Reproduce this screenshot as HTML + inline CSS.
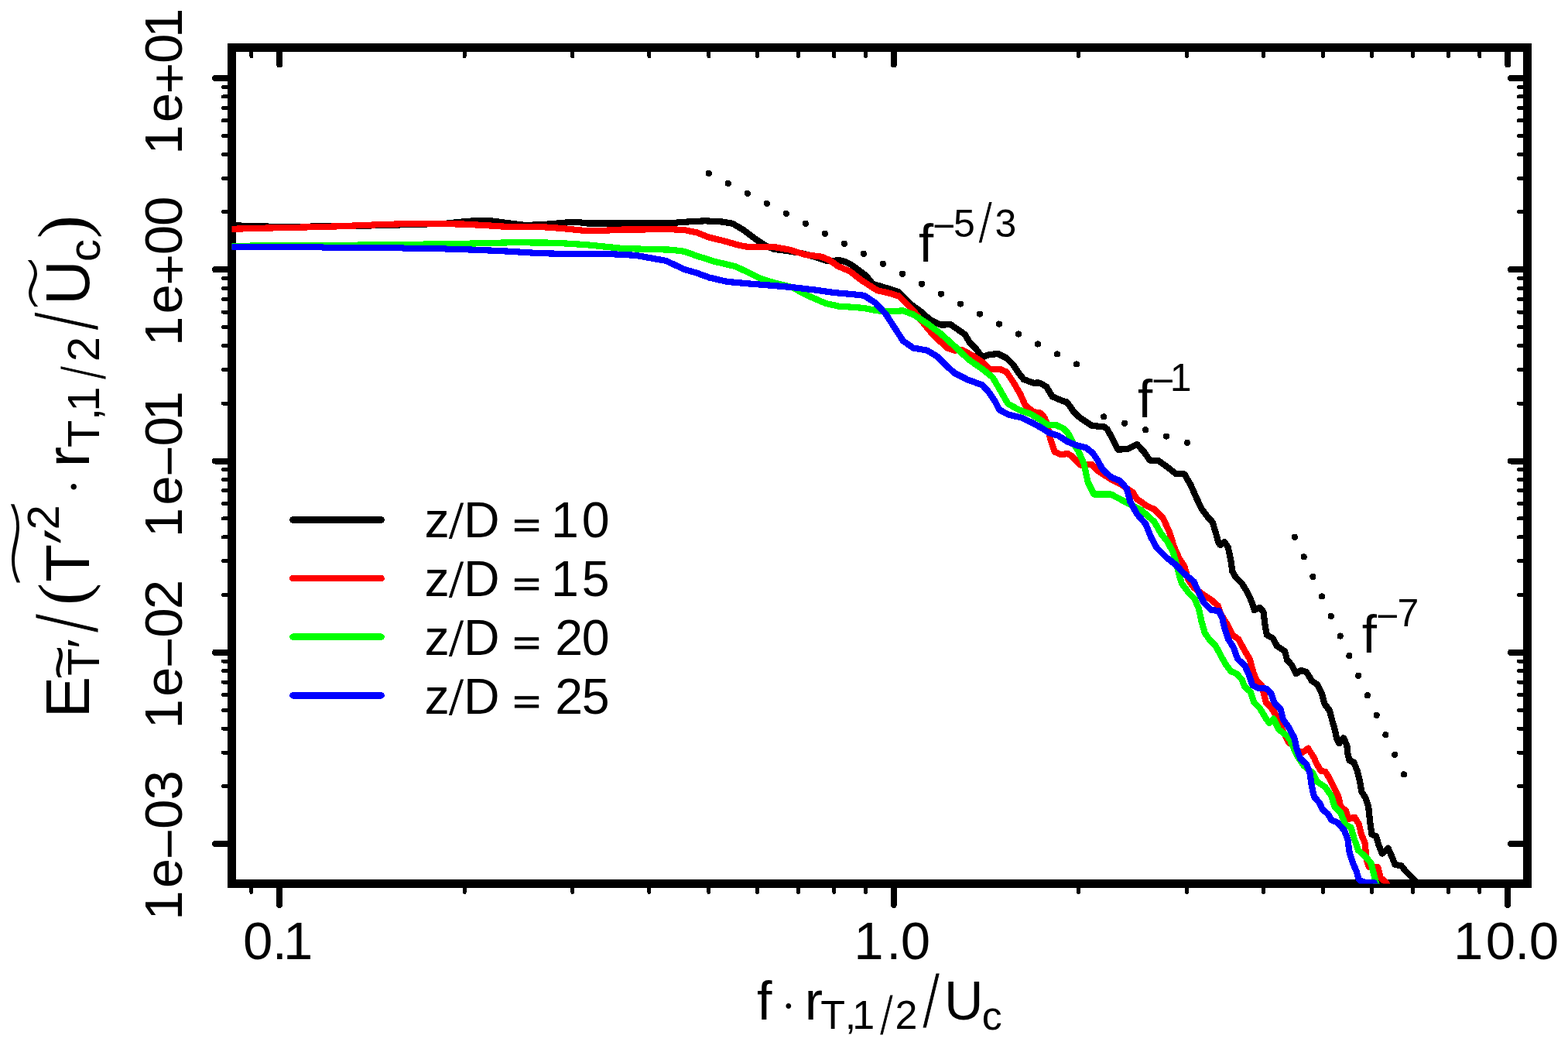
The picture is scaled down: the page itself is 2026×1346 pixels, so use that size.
<!DOCTYPE html><html><head><meta charset="utf-8"><title>Spectra</title><style>html,body{margin:0;padding:0;background:#fff;}svg{display:block;}</style></head><body>
<svg width="2026" height="1346" viewBox="0 0 2026 1346">
<rect width="2026" height="1346" fill="#fff"/>
<g shape-rendering="crispEdges">
<defs><clipPath id="pc"><rect x="299.5" y="61.5" width="1674.0" height="1080.0"/></clipPath></defs>
<rect x="299.5" y="61.5" width="1674.0" height="1080.0" fill="none" stroke="#000" stroke-width="11" stroke-linejoin="miter"/>
<path d="M361.25,61.5V83.5 M361.25,1141.5V1168.8 M1154.75,61.5V83.5 M1154.75,1141.5V1168.8 M1948.25,61.5V83.5 M1948.25,1141.5V1168.8" stroke="#000" stroke-width="8" stroke-linecap="round" fill="none"/>
<path d="M299.5,1090.00H278 M1973.5,1090.00H1952 M299.5,842.75H278 M1973.5,842.75H1952 M299.5,595.50H278 M1973.5,595.50H1952 M299.5,348.25H278 M1973.5,348.25H1952 M299.5,101.00H278 M1973.5,101.00H1952" stroke="#000" stroke-width="8" stroke-linecap="round" fill="none"/>
<path d="M324.94,61.5V72.5 M324.94,1141.5V1152.4 M600.12,61.5V72.5 M600.12,1141.5V1152.4 M739.85,61.5V72.5 M739.85,1141.5V1152.4 M838.98,61.5V72.5 M838.98,1141.5V1152.4 M915.88,61.5V72.5 M915.88,1141.5V1152.4 M978.71,61.5V72.5 M978.71,1141.5V1152.4 M1031.84,61.5V72.5 M1031.84,1141.5V1152.4 M1077.85,61.5V72.5 M1077.85,1141.5V1152.4 M1118.44,61.5V72.5 M1118.44,1141.5V1152.4 M1393.62,61.5V72.5 M1393.62,1141.5V1152.4 M1533.35,61.5V72.5 M1533.35,1141.5V1152.4 M1632.48,61.5V72.5 M1632.48,1141.5V1152.4 M1709.38,61.5V72.5 M1709.38,1141.5V1152.4 M1772.21,61.5V72.5 M1772.21,1141.5V1152.4 M1825.34,61.5V72.5 M1825.34,1141.5V1152.4 M1871.35,61.5V72.5 M1871.35,1141.5V1152.4 M1911.94,61.5V72.5 M1911.94,1141.5V1152.4 M299.5,1015.57H288.5 M1973.5,1015.57H1962.5 M299.5,972.03H288.5 M1973.5,972.03H1962.5 M299.5,941.14H288.5 M1973.5,941.14H1962.5 M299.5,917.18H288.5 M1973.5,917.18H1962.5 M299.5,897.60H288.5 M1973.5,897.60H1962.5 M299.5,881.05H288.5 M1973.5,881.05H1962.5 M299.5,866.71H288.5 M1973.5,866.71H1962.5 M299.5,854.06H288.5 M1973.5,854.06H1962.5 M299.5,768.32H288.5 M1973.5,768.32H1962.5 M299.5,724.78H288.5 M1973.5,724.78H1962.5 M299.5,693.89H288.5 M1973.5,693.89H1962.5 M299.5,669.93H288.5 M1973.5,669.93H1962.5 M299.5,650.35H288.5 M1973.5,650.35H1962.5 M299.5,633.80H288.5 M1973.5,633.80H1962.5 M299.5,619.46H288.5 M1973.5,619.46H1962.5 M299.5,606.81H288.5 M1973.5,606.81H1962.5 M299.5,521.07H288.5 M1973.5,521.07H1962.5 M299.5,477.53H288.5 M1973.5,477.53H1962.5 M299.5,446.64H288.5 M1973.5,446.64H1962.5 M299.5,422.68H288.5 M1973.5,422.68H1962.5 M299.5,403.10H288.5 M1973.5,403.10H1962.5 M299.5,386.55H288.5 M1973.5,386.55H1962.5 M299.5,372.21H288.5 M1973.5,372.21H1962.5 M299.5,359.56H288.5 M1973.5,359.56H1962.5 M299.5,273.82H288.5 M1973.5,273.82H1962.5 M299.5,230.28H288.5 M1973.5,230.28H1962.5 M299.5,199.39H288.5 M1973.5,199.39H1962.5 M299.5,175.43H288.5 M1973.5,175.43H1962.5 M299.5,155.85H288.5 M1973.5,155.85H1962.5 M299.5,139.30H288.5 M1973.5,139.30H1962.5 M299.5,124.96H288.5 M1973.5,124.96H1962.5 M299.5,112.31H288.5 M1973.5,112.31H1962.5" stroke="#000" stroke-width="5" stroke-linecap="round" fill="none"/>
<g clip-path="url(#pc)" fill="none" stroke-width="8.2" stroke-linejoin="round" stroke-linecap="round">
<path d="M299.5,291.0 L323.7,292.2 L369.5,293.0 L434.0,292.2 L458.0,292.0 L521.0,290.3 L576.4,288.7 L600.0,286.2 L616.0,285.0 L631.6,285.0 L647.4,287.0 L679.0,291.0 L702.7,290.0 L734.0,287.3 L750.0,287.3 L758.0,288.4 L821.0,288.4 L837.0,288.0 L868.5,288.0 L892.2,286.2 L911.0,285.3 L933.4,286.5 L946.8,288.9 L961.3,297.5 L978.0,310.1 L989.0,317.4 L1000.0,321.8 L1020.0,324.5 L1035.6,327.0 L1051.2,331.3 L1066.8,336.5 L1075.0,337.0 L1084.0,336.1 L1092.0,338.0 L1098.0,340.8 L1108.4,348.1 L1118.8,356.0 L1127.9,367.0 L1144.6,371.8 L1161.3,377.4 L1178.0,394.0 L1188.9,401.8 L1202.3,413.4 L1215.7,419.6 L1228.2,419.2 L1238.0,425.9 L1246.9,432.1 L1253.1,442.8 L1262.0,451.7 L1269.2,461.5 L1278.1,458.0 L1289.7,457.1 L1300.4,462.4 L1309.3,471.3 L1316.4,482.0 L1322.7,490.1 L1330.0,492.7 L1335.7,494.8 L1341.3,494.4 L1346.0,496.0 L1352.0,499.6 L1356.0,506.2 L1359.6,512.1 L1365.0,514.5 L1372.7,517.7 L1378.6,519.5 L1382.8,525.2 L1387.5,532.3 L1393.5,538.2 L1402.4,544.2 L1411.3,550.1 L1420.2,550.7 L1426.2,550.9 L1430.3,554.0 L1435.4,563.0 L1440.0,572.0 L1444.6,580.8 L1458.0,579.7 L1469.1,573.8 L1478.0,583.6 L1485.8,594.7 L1497.0,595.3 L1508.1,603.1 L1519.3,612.0 L1530.4,612.5 L1538.2,625.9 L1547.1,645.8 L1552.7,657.3 L1560.5,668.0 L1566.7,674.5 L1571.1,689.0 L1574.5,701.2 L1576.7,704.0 L1582.3,700.1 L1586.7,706.8 L1590.1,722.4 L1592.3,738.0 L1596.8,745.8 L1604.6,753.6 L1610.1,762.5 L1615.7,773.6 L1619.1,782.6 L1620.7,788.1 L1628.0,784.8 L1632.4,790.4 L1634.5,806.7 L1636.8,820.1 L1644.6,824.5 L1650.1,834.6 L1660.2,841.3 L1663.0,852.4 L1669.1,859.1 L1674.7,870.2 L1681.3,865.8 L1688.0,868.0 L1694.7,879.1 L1702.5,884.7 L1708.1,895.9 L1711.4,909.2 L1718.1,918.1 L1721.4,931.1 L1724.7,942.3 L1727.0,953.4 L1730.3,960.1 L1735.9,953.4 L1740.3,962.3 L1741.4,973.5 L1743.7,982.4 L1749.2,984.6 L1753.7,995.8 L1757.0,1009.1 L1759.3,1022.5 L1764.8,1031.4 L1768.2,1042.6 L1770.2,1061.3 L1772.5,1078.0 L1778.0,1080.2 L1781.4,1091.4 L1785.8,1102.5 L1793.6,1095.8 L1798.1,1105.8 L1802.6,1117.0 L1810.4,1118.1 L1815.9,1124.8 L1822.6,1131.5 L1827.1,1135.9 L1831.5,1140.4 L1840.0,1152.0" stroke="#000000"/>
<path d="M299.5,295.8 L339.5,294.7 L379.0,293.8 L410.6,293.1 L442.0,292.2 L473.7,290.8 L521.0,289.2 L568.5,289.1 L600.0,289.6 L631.6,291.4 L663.0,293.4 L698.0,293.0 L726.0,295.0 L758.0,298.2 L773.7,298.2 L805.0,296.5 L868.5,296.3 L884.0,297.0 L900.0,300.3 L916.7,306.8 L933.4,310.7 L955.7,317.0 L966.9,319.0 L1000.3,319.0 L1020.0,322.6 L1040.8,329.1 L1061.6,331.7 L1072.0,336.1 L1082.4,343.7 L1098.0,350.4 L1113.6,362.4 L1133.4,375.1 L1150.1,379.0 L1161.3,382.4 L1172.4,393.5 L1180.0,400.9 L1193.4,417.8 L1206.8,433.9 L1224.6,449.9 L1233.5,452.6 L1242.4,451.7 L1255.8,458.9 L1269.2,467.8 L1278.1,476.7 L1291.5,476.7 L1300.4,480.3 L1309.3,493.6 L1318.2,508.8 L1324.8,523.6 L1334.9,531.9 L1345.0,533.7 L1349.7,539.6 L1353.3,548.5 L1355.7,561.6 L1359.2,573.5 L1362.8,583.6 L1370.5,587.2 L1379.4,586.0 L1385.4,589.5 L1391.3,596.1 L1396.0,600.5 L1402.3,600.8 L1410.1,599.7 L1419.0,608.6 L1435.7,619.2 L1446.9,624.8 L1463.6,635.9 L1469.1,645.0 L1474.7,648.2 L1480.3,652.8 L1491.4,657.9 L1502.6,669.0 L1511.5,688.5 L1517.0,706.3 L1523.7,721.4 L1530.4,731.4 L1535.0,748.0 L1542.4,758.9 L1555.8,769.0 L1564.7,774.5 L1573.6,782.3 L1576.9,792.4 L1585.8,806.9 L1592.5,820.2 L1600.3,825.8 L1608.1,840.3 L1614.8,851.4 L1619.3,868.1 L1623.7,879.3 L1630.4,886.0 L1635.7,907.0 L1644.6,917.0 L1651.3,929.3 L1655.7,940.0 L1664.0,957.3 L1675.0,968.0 L1682.4,972.4 L1690.2,966.8 L1698.0,979.0 L1701.3,986.9 L1706.9,995.8 L1712.5,996.9 L1717.9,1005.6 L1723.5,1016.7 L1729.0,1027.9 L1732.4,1042.3 L1739.0,1046.8 L1742.4,1057.9 L1750.2,1055.7 L1755.8,1064.6 L1759.1,1078.0 L1763.6,1089.1 L1764.7,1100.3 L1765.8,1111.4 L1769.1,1120.3 L1780.3,1120.3 L1783.6,1133.7 L1790.3,1139.3 L1796.0,1150.0" stroke="#ff0000"/>
<path d="M299.5,318.0 L360.0,317.0 L490.0,316.5 L600.0,314.8 L663.0,313.2 L718.0,313.7 L758.0,316.2 L805.0,321.0 L868.5,322.7 L884.0,324.8 L900.0,330.4 L922.3,337.6 L950.1,344.1 L966.9,351.9 L983.6,360.2 L1000.3,365.3 L1022.6,370.8 L1044.8,382.3 L1067.1,392.0 L1083.8,395.6 L1100.0,396.7 L1116.7,398.0 L1133.4,401.3 L1150.1,402.4 L1166.9,401.3 L1180.0,406.2 L1197.8,417.8 L1215.7,431.2 L1233.5,447.3 L1251.3,464.2 L1269.2,476.7 L1282.6,487.4 L1291.5,502.6 L1302.3,521.4 L1313.4,527.7 L1320.0,530.7 L1331.9,534.9 L1343.8,542.0 L1352.7,548.5 L1364.6,549.1 L1373.5,553.3 L1379.4,558.6 L1384.2,567.5 L1388.4,575.3 L1393.1,582.4 L1397.3,591.3 L1400.8,600.0 L1405.6,622.6 L1413.4,638.5 L1435.7,638.6 L1446.9,644.5 L1458.0,650.6 L1474.7,659.0 L1491.4,674.0 L1500.3,689.6 L1508.1,699.1 L1515.9,713.6 L1520.4,730.3 L1524.8,747.0 L1526.8,753.4 L1535.7,765.6 L1543.5,773.4 L1549.1,786.8 L1552.4,802.4 L1556.9,818.0 L1562.5,825.8 L1570.3,833.6 L1576.9,845.8 L1583.6,858.1 L1590.3,867.0 L1598.1,870.4 L1604.8,878.2 L1608.1,887.0 L1615.6,893.6 L1620.1,907.0 L1627.9,914.8 L1635.7,928.2 L1640.1,933.7 L1645.7,928.5 L1652.3,942.3 L1662.3,950.1 L1666.8,955.7 L1675.7,975.7 L1684.6,989.1 L1695.8,998.0 L1702.3,1010.0 L1712.3,1016.7 L1720.1,1027.9 L1724.6,1042.3 L1732.4,1050.1 L1737.9,1064.6 L1745.7,1069.1 L1749.1,1081.3 L1754.7,1098.0 L1764.7,1107.0 L1771.4,1114.8 L1774.7,1128.1 L1778.0,1140.4 L1781.0,1150.0" stroke="#00ff00"/>
<path d="M299.5,318.7 L413.7,318.7 L418.0,319.8 L518.0,319.8 L522.0,320.8 L573.0,320.8 L577.0,321.8 L600.0,322.2 L647.4,324.1 L694.8,327.0 L726.4,327.9 L789.5,328.2 L821.1,329.8 L860.6,336.9 L884.3,348.0 L900.0,352.5 L916.7,358.6 L939.0,363.8 L966.9,366.4 L994.7,368.6 L1022.6,371.0 L1050.4,374.2 L1078.3,378.1 L1100.0,380.0 L1116.7,381.8 L1131.2,391.3 L1144.6,405.8 L1155.7,423.0 L1166.9,440.3 L1180.0,449.5 L1197.8,452.6 L1211.2,460.6 L1224.6,474.0 L1233.5,482.0 L1251.3,491.0 L1269.2,497.2 L1278.1,507.0 L1285.2,517.7 L1291.1,529.2 L1302.3,535.3 L1320.0,539.6 L1334.9,546.7 L1346.7,553.3 L1355.7,559.2 L1367.5,562.8 L1379.4,570.5 L1391.3,575.3 L1403.2,578.2 L1412.1,585.4 L1418.1,594.3 L1424.6,606.4 L1435.7,616.4 L1446.9,620.9 L1455.8,630.9 L1460.2,647.8 L1469.1,664.0 L1480.3,676.8 L1487.0,693.5 L1494.8,708.0 L1505.9,719.1 L1519.3,729.7 L1529.0,740.0 L1542.4,751.1 L1549.1,765.6 L1555.8,779.0 L1564.7,787.9 L1574.7,789.0 L1579.2,797.9 L1582.5,812.4 L1587.0,825.8 L1593.6,835.8 L1599.2,851.4 L1608.1,859.2 L1613.7,871.5 L1618.2,884.8 L1624.8,888.5 L1636.8,889.7 L1642.3,895.8 L1646.8,908.1 L1654.6,915.9 L1657.9,929.0 L1666.8,942.3 L1672.4,953.4 L1675.7,967.9 L1680.2,980.2 L1688.0,986.9 L1692.4,998.0 L1694.7,1014.7 L1698.0,1029.2 L1704.7,1037.0 L1709.1,1045.9 L1715.8,1051.5 L1720.3,1059.3 L1727.9,1062.4 L1736.8,1072.4 L1741.3,1083.6 L1743.5,1100.3 L1748.0,1114.8 L1752.4,1124.8 L1755.8,1135.9 L1760.2,1139.5 L1769.1,1139.8 L1775.8,1140.4 L1780.0,1150.0" stroke="#0000ff"/>
</g>
<g fill="#000"><circle cx="915.90" cy="224.00" r="4.1"/><circle cx="940.90" cy="236.97" r="4.1"/><circle cx="965.90" cy="249.94" r="4.1"/><circle cx="990.90" cy="262.91" r="4.1"/><circle cx="1015.90" cy="275.88" r="4.1"/><circle cx="1040.90" cy="288.85" r="4.1"/><circle cx="1065.90" cy="301.82" r="4.1"/><circle cx="1090.90" cy="314.79" r="4.1"/><circle cx="1115.90" cy="327.76" r="4.1"/><circle cx="1140.90" cy="340.73" r="4.1"/><circle cx="1165.90" cy="353.70" r="4.1"/><circle cx="1190.90" cy="366.67" r="4.1"/><circle cx="1215.90" cy="379.64" r="4.1"/><circle cx="1240.90" cy="392.61" r="4.1"/><circle cx="1265.90" cy="405.58" r="4.1"/><circle cx="1290.90" cy="418.55" r="4.1"/><circle cx="1315.90" cy="431.52" r="4.1"/><circle cx="1340.90" cy="444.49" r="4.1"/><circle cx="1365.90" cy="457.46" r="4.1"/><circle cx="1390.90" cy="470.43" r="4.1"/><circle cx="1426.20" cy="538.40" r="4.1"/><circle cx="1453.15" cy="546.78" r="4.1"/><circle cx="1480.10" cy="555.16" r="4.1"/><circle cx="1507.05" cy="563.54" r="4.1"/><circle cx="1534.00" cy="571.92" r="4.1"/><circle cx="1672.90" cy="693.80" r="4.1"/><circle cx="1684.65" cy="719.35" r="4.1"/><circle cx="1696.40" cy="744.90" r="4.1"/><circle cx="1708.15" cy="770.45" r="4.1"/><circle cx="1719.90" cy="796.00" r="4.1"/><circle cx="1731.65" cy="821.55" r="4.1"/><circle cx="1743.40" cy="847.10" r="4.1"/><circle cx="1755.15" cy="872.65" r="4.1"/><circle cx="1766.90" cy="898.20" r="4.1"/><circle cx="1778.65" cy="923.75" r="4.1"/><circle cx="1790.40" cy="949.30" r="4.1"/><circle cx="1802.15" cy="974.85" r="4.1"/><circle cx="1813.90" cy="1000.40" r="4.1"/></g>
</g>
<path d="M378.5,671.5H492.5" stroke="#000000" stroke-width="8.6" stroke-linecap="round" shape-rendering="crispEdges"/>
<text x="548.49" y="693.90" font-family='"Liberation Sans", sans-serif'  font-size="64.5" >z</text>
<text transform="translate(579.47,689.94) scale(0.9869,0.9269)" font-family='"DejaVu Sans", sans-serif' font-weight="200" font-size="60"  stroke="#000" stroke-width="0.9">/</text>
<text x="599.01" y="693.90" font-family='"Liberation Sans", sans-serif'  font-size="64.5" >D</text>
<text transform="translate(662.57,694.30) scale(0.9605,0.6831)" font-family='"Liberation Sans", sans-serif'  font-size="64.5" stroke="#000" stroke-width="1.3">=</text>
<text x="711.98 751.66" y="693.90" font-family='"Liberation Sans", sans-serif'  font-size="64.5" >10</text>
<path d="M378.5,747.1H492.5" stroke="#ff0000" stroke-width="8.6" stroke-linecap="round" shape-rendering="crispEdges"/>
<text x="548.49" y="769.90" font-family='"Liberation Sans", sans-serif'  font-size="64.5" >z</text>
<text transform="translate(579.47,765.94) scale(0.9869,0.9269)" font-family='"DejaVu Sans", sans-serif' font-weight="200" font-size="60"  stroke="#000" stroke-width="0.9">/</text>
<text x="599.01" y="769.90" font-family='"Liberation Sans", sans-serif'  font-size="64.5" >D</text>
<text transform="translate(662.57,770.30) scale(0.9605,0.6831)" font-family='"Liberation Sans", sans-serif'  font-size="64.5" stroke="#000" stroke-width="1.3">=</text>
<text x="711.98 751.73" y="769.90" font-family='"Liberation Sans", sans-serif'  font-size="64.5" >15</text>
<path d="M378.5,822.7H492.5" stroke="#00ff00" stroke-width="8.6" stroke-linecap="round" shape-rendering="crispEdges"/>
<text x="548.49" y="845.90" font-family='"Liberation Sans", sans-serif'  font-size="64.5" >z</text>
<text transform="translate(579.47,841.94) scale(0.9869,0.9269)" font-family='"DejaVu Sans", sans-serif' font-weight="200" font-size="60"  stroke="#000" stroke-width="0.9">/</text>
<text x="599.01" y="845.90" font-family='"Liberation Sans", sans-serif'  font-size="64.5" >D</text>
<text transform="translate(662.57,846.30) scale(0.9605,0.6831)" font-family='"Liberation Sans", sans-serif'  font-size="64.5" stroke="#000" stroke-width="1.3">=</text>
<text x="717.26 751.66" y="845.90" font-family='"Liberation Sans", sans-serif'  font-size="64.5" >20</text>
<path d="M378.5,898.3H492.5" stroke="#0000ff" stroke-width="8.6" stroke-linecap="round" shape-rendering="crispEdges"/>
<text x="548.49" y="921.90" font-family='"Liberation Sans", sans-serif'  font-size="64.5" >z</text>
<text transform="translate(579.47,917.94) scale(0.9869,0.9269)" font-family='"DejaVu Sans", sans-serif' font-weight="200" font-size="60"  stroke="#000" stroke-width="0.9">/</text>
<text x="599.01" y="921.90" font-family='"Liberation Sans", sans-serif'  font-size="64.5" >D</text>
<text transform="translate(662.57,922.30) scale(0.9605,0.6831)" font-family='"Liberation Sans", sans-serif'  font-size="64.5" stroke="#000" stroke-width="1.3">=</text>
<text x="717.26 751.73" y="921.90" font-family='"Liberation Sans", sans-serif'  font-size="64.5" >25</text>
<text x="314.00 351.66 365.95" y="1239.00" font-family='"Liberation Sans", sans-serif'  font-size="69" >0.1</text>
<text x="1103.32 1145.16 1163.63" y="1239.00" font-family='"Liberation Sans", sans-serif'  font-size="69" >1.0</text>
<text x="1878.12 1919.71 1957.37 1975.84" y="1239.00" font-family='"Liberation Sans", sans-serif'  font-size="69" >10.0</text>
<g transform="translate(235.0,101.00) rotate(-90)"><text x="-98.79 -57.31 -20.13 19.00 52.10" y="0.00 0.00 7.14 0.00 0.00" font-family='"Liberation Sans", sans-serif'  font-size="69" >1e+01</text></g>
<g transform="translate(235.0,348.25) rotate(-90)"><text x="-98.79 -57.31 -20.13 19.00 56.25" y="0.00 0.00 7.14 0.00 0.00" font-family='"Liberation Sans", sans-serif'  font-size="69" >1e+00</text></g>
<g transform="translate(235.0,595.50) rotate(-90)"><text x="-98.79 -57.31 -20.16 19.00 52.10" y="0.00 0.00 7.14 0.00 0.00" font-family='"Liberation Sans", sans-serif'  font-size="69" >1e−01</text></g>
<g transform="translate(235.0,842.75) rotate(-90)"><text x="-98.79 -57.31 -20.16 19.00 55.48" y="0.00 0.00 7.14 0.00 0.00" font-family='"Liberation Sans", sans-serif'  font-size="69" >1e−02</text></g>
<g transform="translate(235.0,1090.00) rotate(-90)"><text x="-98.79 -57.31 -20.16 19.00 56.46" y="0.00 0.00 7.14 0.00 0.00" font-family='"Liberation Sans", sans-serif'  font-size="69" >1e−03</text></g>
<text x="1186.93" y="337.80" font-family='"Liberation Sans", sans-serif'  font-size="69" >f</text>
<text x="1204.94" y="309.10" font-family='"Liberation Sans", sans-serif'  font-size="50" >−</text>
<text x="1232.10" y="305.80" font-family='"Liberation Sans", sans-serif'  font-size="50" >5</text>
<text transform="translate(1264.39,306.80) scale(0.8615,1.0242)" font-family='"DejaVu Sans", sans-serif' font-weight="200" font-size="60"  stroke="#000" stroke-width="0.9">/</text>
<text x="1285.39" y="305.80" font-family='"Liberation Sans", sans-serif'  font-size="50" >3</text>
<text x="1469.88" y="538.90" font-family='"Liberation Sans", sans-serif'  font-size="69" >f</text>
<text x="1487.99" y="509.10" font-family='"Liberation Sans", sans-serif'  font-size="50" >−</text>
<text x="1511.86" y="504.80" font-family='"Liberation Sans", sans-serif'  font-size="50" >1</text>
<text x="1759.83" y="842.70" font-family='"Liberation Sans", sans-serif'  font-size="69" >f</text>
<text x="1777.94" y="813.00" font-family='"Liberation Sans", sans-serif'  font-size="50" >−</text>
<text x="1805.57" y="808.70" font-family='"Liberation Sans", sans-serif'  font-size="50" >7</text>
<text x="977.93" y="1317.20" font-family='"Liberation Sans", sans-serif'  font-size="70" >f</text>
<text transform="translate(1009.22,1319.31) scale(0.8221,0.8463)" font-family='"Liberation Serif", serif'  font-size="70" >·</text>
<text x="1039.70" y="1317.20" font-family='"Liberation Sans", sans-serif'  font-size="70" >r</text>
<text x="1060.13" y="1328.70" font-family='"Liberation Sans", sans-serif'  font-size="52" >T</text>
<text x="1091.78" y="1328.70" font-family='"Liberation Sans", sans-serif'  font-size="52" >,</text>
<text x="1101.33" y="1328.70" font-family='"Liberation Sans", sans-serif'  font-size="52" >1</text>
<text transform="translate(1136.92,1330.40) scale(0.8342,1.0059)" font-family='"DejaVu Sans", sans-serif' font-weight="200" font-size="60"  stroke="#000" stroke-width="0.9">/</text>
<text x="1156.54" y="1328.70" font-family='"Liberation Sans", sans-serif'  font-size="52" >2</text>
<text transform="translate(1191.97,1318.68) scale(0.8261,1.0404)" font-family='"DejaVu Sans", sans-serif' font-weight="200" font-size="80"  stroke="#000" stroke-width="0.9">/</text>
<text x="1220.12" y="1317.20" font-family='"Liberation Sans", sans-serif'  font-size="70" >U</text>
<text x="1268.78" y="1329.50" font-family='"Liberation Sans", sans-serif'  font-size="52" >c</text>
<g transform="translate(115.0,960) rotate(-90)"><text x="32.86" y="0.00" font-family='"Liberation Sans", sans-serif'  font-size="80" >E</text><text x="87.30" y="13.40" font-family='"Liberation Sans", sans-serif'  font-size="58" >T</text><text transform="translate(81.55,-15.18) scale(1.2817,1.1557)" font-family='"Liberation Sans", sans-serif'  font-size="60" >~</text><text transform="translate(122.25,10.51) scale(1.1408,0.9525)" font-family='"Liberation Sans", sans-serif'  font-size="58" >′</text><text transform="translate(142.87,1.56) scale(0.9079,1.2047)" font-family='"DejaVu Sans", sans-serif' font-weight="200" font-size="80"  stroke="#000" stroke-width="0.9">/</text><text transform="translate(178.24,-3.66) scale(0.9624,1.0062)" font-family='"Liberation Serif", serif'  font-size="89" >(</text><text x="208.19" y="0.00" font-family='"Liberation Sans", sans-serif'  font-size="80" >T</text><g transform="translate(267.00,-47.52) skewX(-18)"><text x="-8.61" y="46.02" font-family='"Liberation Sans", sans-serif'  font-size="82" >′</text></g><text x="275.62" y="-39.30" font-family='"Liberation Sans", sans-serif'  font-size="58" >2</text><text transform="translate(190.32,-65.25) scale(1.8016,1.0490)" font-family='"DejaVu Sans", sans-serif' font-weight="200" font-size="90" >~</text><text transform="translate(320.49,1.09) scale(0.8040,0.8040)" font-family='"Liberation Serif", serif'  font-size="80" >·</text><text x="356.64" y="0.00" font-family='"Liberation Sans", sans-serif'  font-size="80" >r</text><text x="382.10" y="13.40" font-family='"Liberation Sans", sans-serif'  font-size="58" >T</text><text x="417.09" y="13.40" font-family='"Liberation Sans", sans-serif'  font-size="58" >,</text><text x="428.23" y="13.40" font-family='"Liberation Sans", sans-serif'  font-size="58" >1</text><text transform="translate(470.11,15.23) scale(0.8452,1.1439)" font-family='"DejaVu Sans", sans-serif' font-weight="200" font-size="60"  stroke="#000" stroke-width="0.9">/</text><text x="492.77" y="13.40" font-family='"Liberation Sans", sans-serif'  font-size="58" >2</text><text transform="translate(533.62,1.86) scale(0.8670,1.2184)" font-family='"DejaVu Sans", sans-serif' font-weight="200" font-size="80"  stroke="#000" stroke-width="0.9">/</text><text x="565.96" y="0.30" font-family='"Liberation Sans", sans-serif'  font-size="80" >U</text><text transform="translate(553.81,-41.33) scale(1.0686,1.1166)" font-family='"DejaVu Sans", sans-serif' font-weight="200" font-size="90" >~</text><text x="622.08" y="14.10" font-family='"Liberation Sans", sans-serif'  font-size="58" >c</text><text transform="translate(651.66,-3.22) scale(1.0237,1.0248)" font-family='"Liberation Serif", serif'  font-size="89" >)</text></g>
</svg></body></html>
